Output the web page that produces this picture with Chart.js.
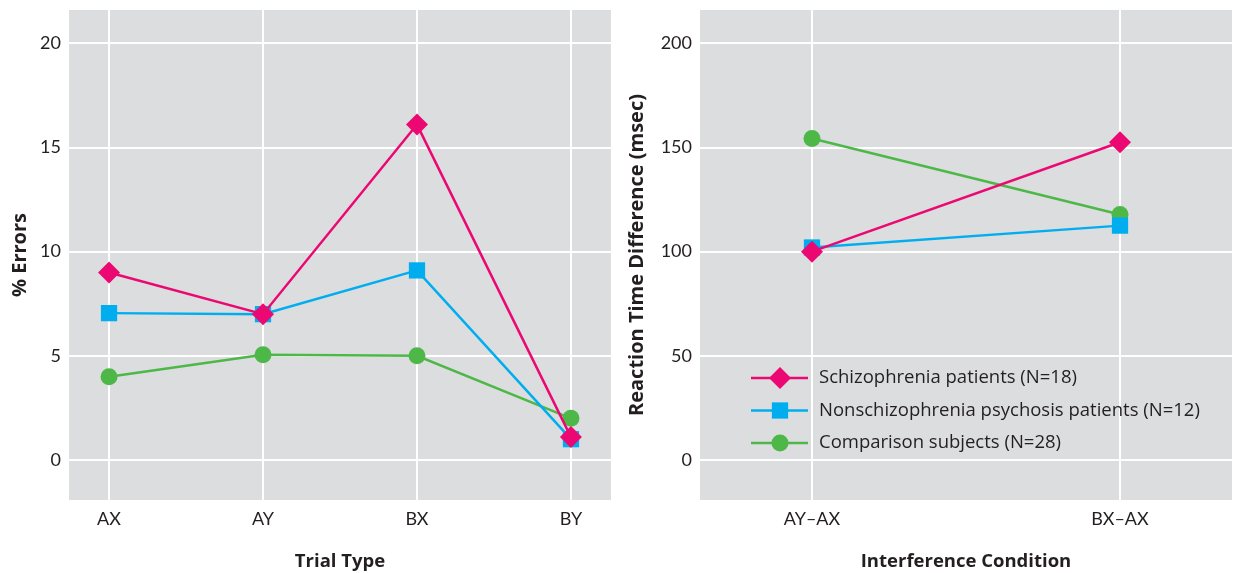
<!DOCTYPE html>
<html><head><meta charset="utf-8">
<script src="https://cdn.jsdelivr.net/npm/chart.js@4.4.1/dist/chart.umd.min.js"></script>
<style>
html,body{margin:0;padding:0;background:#fff;}
#wrap{position:relative;width:1234px;height:573px;overflow:hidden;}
canvas{position:absolute;top:0;}
#c1{left:0}
#c2{left:617px}
</style></head><body>
<div id="wrap"><canvas id="c1" width="617" height="573"></canvas><canvas id="c2" width="617" height="573"></canvas></div>
<script>
// ---- data ----
const trialTypes = ['AX', 'AY', 'BX', 'BY'];
const schizoErrors = [9.0, 7.0, 16.1, 1.1];
const nonSchizoErrors = [7.05, 7.0, 9.1, 1.0];
const comparisonErrors = [4.0, 5.05, 5.0, 2.0];
const errorTicks = [0, 5, 10, 15, 20];

const conditions = ['AY–AX', 'BX–AX'];
const schizoRT = [100, 152.5];
const nonSchizoRT = [102, 112.5];
const comparisonRT = [154.3, 117.8];
const rtTicks = [0, 50, 100, 150, 200];

const seriesLabels = ['Schizophrenia patients (N=18)', 'Nonschizophrenia psychosis patients (N=12)', 'Comparison subjects (N=28)'];

// ---- style ----
const TICK_FONT = 'Lato, "Open Sans", sans-serif';
const TEXT_FONT = '"Open Sans", "Noto Sans", sans-serif';
const TEXT = '#231F20';
const PLOT_BG = '#DCDDDF';
const colors = ['#EC0873', '#00AEEF', '#4DB848'];
const pStyles = ['rectRot', 'rect', 'circle'];
const pRadius = [11, 11.5, 8.5];

function makeDatasets(seriesArr) {
  return seriesArr.map((vals, i) => ({
    label: seriesLabels[i],
    data: vals.map((v, k) => ({x: k, y: v})),
    borderColor: colors[i],
    backgroundColor: colors[i],
    borderWidth: 2.5,
    pointStyle: pStyles[i],
    pointRadius: pRadius[i],
    pointHoverRadius: pRadius[i],
    pointBorderWidth: 0,
    pointBackgroundColor: colors[i],
    pointBorderColor: colors[i],
    tension: 0
  }));
}

const bgPlugin = {
  id: 'plotBg',
  beforeDraw(chart) {
    const {ctx, chartArea: a} = chart;
    ctx.save();
    ctx.fillStyle = PLOT_BG;
    ctx.fillRect(a.left, a.top, a.right - a.left, a.bottom - a.top);
    ctx.restore();
  }
};

function drawMarker(ctx, style, x, y, r, color) {
  ctx.save();
  ctx.fillStyle = color;
  ctx.beginPath();
  if (style === 'rectRot') {
    ctx.moveTo(x - r, y); ctx.lineTo(x, y - r); ctx.lineTo(x + r, y); ctx.lineTo(x, y + r); ctx.closePath();
  } else if (style === 'rect') {
    const s = r * Math.SQRT1_2;
    ctx.rect(x - s, y - s, 2 * s, 2 * s);
  } else {
    ctx.arc(x, y, r, 0, Math.PI * 2);
  }
  ctx.fill();
  ctx.restore();
}

const legendPlugin = {
  id: 'insideLegend',
  afterDraw(chart) {
    const {ctx, chartArea: a} = chart;
    const x0 = a.left + 51, x1 = a.left + 108, xm = a.left + 80, xt = a.left + 119;
    chart.data.datasets.forEach((ds, i) => {
      const y = a.top + 368 + i * 32.5;
      ctx.save();
      ctx.strokeStyle = ds.borderColor;
      ctx.lineWidth = 2.5;
      ctx.beginPath(); ctx.moveTo(x0, y); ctx.lineTo(x1, y); ctx.stroke();
      ctx.restore();
      drawMarker(ctx, ds.pointStyle, xm, y, ds.pointRadius, ds.borderColor);
      ctx.save();
      ctx.fillStyle = TEXT;
      ctx.font = '18.5px ' + TEXT_FONT;
      ctx.textAlign = 'left';
      ctx.textBaseline = 'middle';
      ctx.fillText(ds.label, xt, y);
      ctx.restore();
    });
  }
};

function zeroPad(s) { s.paddingTop = 0; s.paddingBottom = 0; s.paddingLeft = 0; s.paddingRight = 0; }

function makeOptions(cfg) {
  return {
    responsive: false,
    animation: false,
    events: [],
    layout: {autoPadding: false, padding: {top: 10, right: cfg.padRight, left: 0, bottom: 0}},
    plugins: {legend: {display: false}, tooltip: {enabled: false}},
    scales: {
      x: {
        type: 'linear',
        min: cfg.xmin, max: cfg.xmax,
        afterBuildTicks: s => { s.ticks = cfg.cats.map((_, i) => ({value: i})); },
        afterFit: s => { s.height = 73; zeroPad(s); },
        ticks: {callback: v => cfg.cats[v], color: TEXT, font: {family: TICK_FONT, size: 18}, padding: 8, maxRotation: 0, autoSkip: false},
        grid: {color: '#ffffff', lineWidth: 2, drawTicks: false},
        border: {display: false},
        title: {display: true, text: cfg.xTitle, color: TEXT, font: {family: TEXT_FONT, size: 18.5, weight: 'bold'}, padding: {top: 0, bottom: 0}}
      },
      y: {
        min: cfg.ymin, max: cfg.ymax,
        afterBuildTicks: s => { s.ticks = cfg.yticks.map(v => ({value: v})); },
        afterFit: s => { s.width = cfg.yWidth; zeroPad(s); },
        ticks: {color: TEXT, font: {family: TICK_FONT, size: 18}, padding: 8},
        grid: {color: '#ffffff', lineWidth: 2, drawTicks: false},
        border: {display: false},
        title: {display: true, text: cfg.yTitle, color: TEXT, font: {family: TEXT_FONT, size: 20, weight: 'bold'}, padding: {top: 8, bottom: 0}}
      }
    }
  };
}

new Chart(document.getElementById('c1'), {
  type: 'line',
  data: {datasets: makeDatasets([schizoErrors, nonSchizoErrors, comparisonErrors])},
  options: makeOptions({cats: trialTypes, xmin: -0.26, xmax: 3.26, ymin: -1.92, ymax: 21.6, yticks: errorTicks, yWidth: 69, padRight: 6, xTitle: 'Trial Type', yTitle: '% Errors'}),
  plugins: [bgPlugin]
});

new Chart(document.getElementById('c2'), {
  type: 'line',
  data: {datasets: makeDatasets([schizoRT, nonSchizoRT, comparisonRT])},
  options: makeOptions({cats: conditions, xmin: -0.3636, xmax: 1.3636, ymin: -19.2, ymax: 216, yticks: rtTicks, yWidth: 83, padRight: 2, xTitle: 'Interference Condition', yTitle: 'Reaction Time Difference (msec)'}),
  plugins: [bgPlugin, legendPlugin]
});
</script>
</body></html>
